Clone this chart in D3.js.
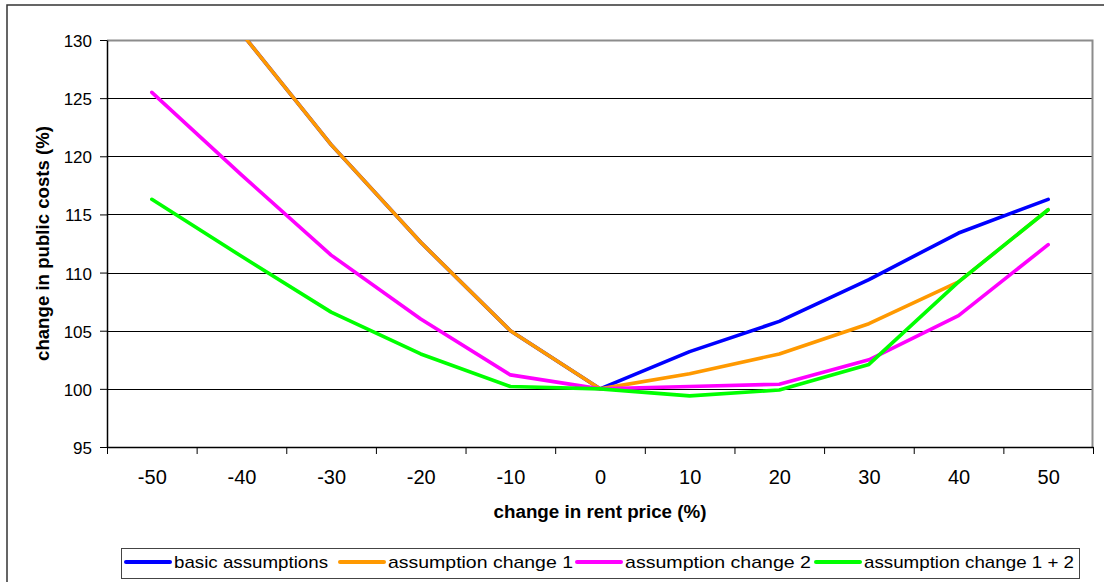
<!DOCTYPE html>
<html>
<head>
<meta charset="utf-8">
<script src="https://cdn.jsdelivr.net/npm/d3@7"></script>
<style>
  html, body { margin: 0; padding: 0; background: #fff; }
  svg { display: block; font-family: "Liberation Sans", Arial, sans-serif; }
</style>
</head>
<body>
<svg id="chart" width="1104" height="582"></svg>
<script>
// Rent price change (%) on the category axis
const categories = [-50, -40, -30, -20, -10, 0, 10, 20, 30, 40, 50];

// Change in public costs (%) per scenario
const basicAssumptions   = [140.5, 130.6, 121.0, 112.6, 105.0, 100.0, 103.2, 105.8, 109.4, 113.4, 116.3];
const assumptionChange1  = [140.5, 130.6, 121.0, 112.6, 105.0, 100.0, 101.3, 103.0, 105.6, 109.2, 115.4];
const assumptionChange2  = [125.5, 118.4, 111.5, 106.0, 101.2, 100.0, 100.2, 100.4, 102.5, 106.3, 112.4];
const assumptionChange12 = [116.3, 111.4, 106.6, 103.0, 100.2, 100.0,  99.4,  99.9, 102.1, 109.2, 115.4];

const seriesNames  = ["basic assumptions", "assumption change 1", "assumption change 2", "assumption change 1 + 2"];
const seriesColors = ["#0000ff", "#ff9900", "#ff00ff", "#00ff00"];
const yTicks = [95, 100, 105, 110, 115, 120, 125, 130];

const series = [basicAssumptions, assumptionChange1, assumptionChange2, assumptionChange12]
  .map((vals, i) => ({
    name: seriesNames[i],
    color: seriesColors[i],
    points: categories.map((c, j) => ({ x: c, y: vals[j] }))
  }));

const svg = d3.select("#chart");
const plot = { left: 107, right: 1093, top: 40, bottom: 447 };

const x = d3.scaleLinear().domain([-55, 55]).range([plot.left, plot.right]);
const y = d3.scaleLinear().domain([95, 130]).range([plot.bottom, plot.top]);

// Outer chart frame
svg.append("rect")
  .attr("x", 7).attr("y", 5)
  .attr("width", 1120).attr("height", 600)
  .attr("fill", "none").attr("stroke", "#333").attr("stroke-width", 1.5);

// Horizontal gridlines
svg.append("g")
  .selectAll("line")
  .data(yTicks.filter(t => t > 95))
  .join("line")
  .attr("x1", plot.left).attr("x2", plot.right)
  .attr("y1", d => Math.round(y(d)) + 0.5).attr("y2", d => Math.round(y(d)) + 0.5)
  .attr("stroke", "#000").attr("stroke-width", 1);

// Plot area border (top and right)
svg.append("path")
  .attr("d", `M${plot.left},${plot.top + 0.5}H${plot.right - 0.5}V${plot.bottom}`)
  .attr("fill", "none").attr("stroke", "#8c8c8c").attr("stroke-width", 2);

// Series lines, clipped to the plot area
svg.append("clipPath").attr("id", "plotClip")
  .append("rect")
  .attr("x", plot.left).attr("y", plot.top)
  .attr("width", plot.right - plot.left).attr("height", plot.bottom - plot.top);

const line = d3.line().x(d => x(d.x)).y(d => y(d.y));

svg.append("g")
  .attr("clip-path", "url(#plotClip)")
  .selectAll("path")
  .data(series)
  .join("path")
  .attr("d", d => line(d.points))
  .attr("fill", "none")
  .attr("stroke", d => d.color)
  .attr("stroke-width", 3.6)
  .attr("stroke-linejoin", "round")
  .attr("stroke-linecap", "round");

// Y axis
const yAxis = svg.append("g")
  .attr("transform", `translate(${plot.left},0)`)
  .call(d3.axisLeft(y).tickValues(yTicks).tickSize(7).tickPadding(8).tickSizeOuter(0)
    .tickFormat(d => String(d)));
yAxis.select(".domain").attr("stroke", "#000").attr("stroke-width", 1.5);
yAxis.selectAll(".tick line").attr("stroke", "#000").attr("stroke-width", 1);
yAxis.selectAll(".tick text")
  .attr("font-size", 17).attr("fill", "#000")
  .attr("font-family", "'Liberation Sans', Arial, sans-serif")
  .attr("dy", "0.38em");

// X axis: labels at category centres (plain hyphen for negatives)
const xAxis = svg.append("g")
  .attr("transform", `translate(0,${plot.bottom})`)
  .call(d3.axisBottom(x).tickValues(categories).tickSize(0).tickSizeOuter(0)
    .tickFormat(d => String(d)));
xAxis.select(".domain").attr("stroke", "#000").attr("stroke-width", 1.5);
xAxis.selectAll(".tick text")
  .attr("font-size", 20).attr("fill", "#000")
  .attr("font-family", "'Liberation Sans', Arial, sans-serif")
  .attr("y", 37).attr("dy", 0);

// X axis: tick marks between categories
const boundaries = categories.map(c => c - 5).concat([categories[categories.length - 1] + 5]);
const xMarks = svg.append("g")
  .attr("transform", `translate(0,${plot.bottom})`)
  .call(d3.axisBottom(x).tickValues(boundaries).tickSize(7).tickFormat(""));
xMarks.select(".domain").remove();
xMarks.selectAll(".tick line").attr("stroke", "#000").attr("stroke-width", 1);

// Axis titles
svg.append("text")
  .attr("x", (plot.left + plot.right) / 2).attr("y", 518)
  .attr("text-anchor", "middle")
  .attr("font-size", 18).attr("font-weight", "bold")
  .attr("textLength", 213).attr("lengthAdjust", "spacingAndGlyphs")
  .text("change in rent price (%)");

svg.append("text")
  .attr("transform", `translate(49,${(plot.top + plot.bottom) / 2}) rotate(-90)`)
  .attr("text-anchor", "middle")
  .attr("font-size", 18).attr("font-weight", "bold")
  .attr("textLength", 235).attr("lengthAdjust", "spacingAndGlyphs")
  .text("change in public costs (%)");

// Legend
const legend = { x: 121, y: 548, w: 958, h: 30 };
svg.append("rect")
  .attr("x", legend.x + 0.5).attr("y", legend.y + 0.5)
  .attr("width", legend.w).attr("height", legend.h)
  .attr("fill", "#fff").attr("stroke", "#444").attr("stroke-width", 1);

const legendItems = [
  { lineX: 126, textX: 174, textW: 154 },
  { lineX: 340, textX: 388, textW: 185 },
  { lineX: 577, textX: 625, textW: 186 },
  { lineX: 816, textX: 864, textW: 210 }
];

const lg = svg.append("g")
  .selectAll("g")
  .data(series)
  .join("g");

lg.append("line")
  .attr("x1", (d, i) => legendItems[i].lineX)
  .attr("x2", (d, i) => legendItems[i].lineX + 44)
  .attr("y1", 562).attr("y2", 562)
  .attr("stroke", d => d.color).attr("stroke-width", 4)
  .attr("stroke-linecap", "round");

lg.append("text")
  .attr("x", (d, i) => legendItems[i].textX)
  .attr("y", 568)
  .attr("font-size", 17)
  .attr("textLength", (d, i) => legendItems[i].textW)
  .attr("lengthAdjust", "spacingAndGlyphs")
  .attr("fill", "#000")
  .text(d => d.name);
</script>
</body>
</html>
